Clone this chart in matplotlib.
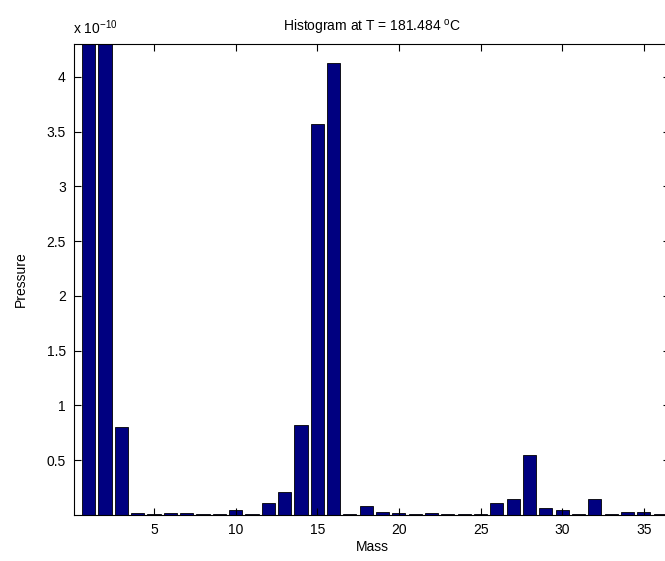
import numpy as np
import matplotlib
matplotlib.use("Agg")
from matplotlib import pyplot as plt

# mass numbers and partial pressures (units of 1e-10)
mass = np.arange(1, 37)
pressure = [9.0, 7.0, 0.80, 0.02, 0.005, 0.02, 0.02, 0.01, 0.005, 0.05,
            0.005, 0.11, 0.21, 0.82, 3.57, 4.13, 0.01, 0.08, 0.03, 0.02,
            0.005, 0.02, 0.005, 0.005, 0.005, 0.11, 0.15, 0.55, 0.06, 0.05,
            0.005, 0.15, 0.005, 0.03, 0.03, 0.01]
xticks = [5, 10, 15, 20, 25, 30, 35]
yticks = [0.5, 1, 1.5, 2, 2.5, 3, 3.5, 4]
title = r'Histogram at T = 181.484 $^{\mathrm{o}}$C'

plt.rcParams['font.family'] = ['Liberation Sans', 'DejaVu Sans']
plt.rcParams['mathtext.fontset'] = 'custom'
plt.rcParams['mathtext.rm'] = 'Liberation Sans'

fig = plt.figure(figsize=(6.65, 5.61), dpi=100)
# right edge of the axes sits just past the picture, as in the cropped original
ax = fig.add_axes([74 / 665, 46 / 561, 596 / 665, 471 / 561])

ax.bar(mass, pressure, width=0.8, color='#000080', edgecolor='black', linewidth=0.6)

ax.set_xlim(0.1, 36.6)
ax.set_ylim(0, 4.3)
ax.set_xticks(xticks)
ax.set_yticks(yticks)
ax.set_yticklabels(['0.5', '1', '1.5', '2', '2.5', '3', '3.5', '4'])
ax.tick_params(direction='in', top=True, right=True, labelsize=10, length=5, pad=6)
for s in ax.spines.values():
    s.set_linewidth(0.8)

ax.set_xlabel('Mass', fontsize=10, labelpad=2)
ax.set_ylabel('Pressure', fontsize=10, labelpad=13)
ax.set_title(title, fontsize=10, pad=9)
ax.text(-0.002, 1.015, r'x 10$^{-10}$', transform=ax.transAxes, fontsize=10,
        ha='left', va='bottom')

fig.savefig('out.png', dpi=100)
